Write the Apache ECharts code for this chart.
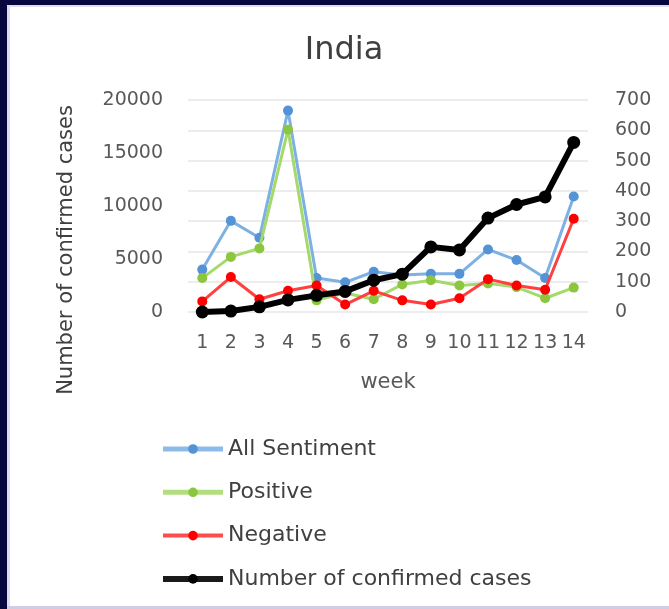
<!DOCTYPE html>
<html>
<head>
<meta charset="utf-8">
<script src="https://cdn.jsdelivr.net/npm/echarts@6/dist/echarts.min.js"></script>
<style>
  html, body { margin: 0; padding: 0; background: #ffffff; }
  #chart { width: 669px; height: 609px; }
</style>
</head>
<body>
<div id="chart"></div>
<script>
// Weekly tweet sentiment counts vs. confirmed COVID-19 cases, India
const weeks = ['1','2','3','4','5','6','7','8','9','10','11','12','13','14'];
const allSentiment = [4000, 8600, 7000, 19000, 3200, 2800, 3800, 3500, 3600, 3600, 5900, 4900, 3200, 10900];
const positive     = [3200, 5200, 6000, 17200, 1100, 1800, 1200, 2600, 3000, 2500, 2700, 2350, 1300, 2300];
const negative     = [1000, 3300, 1200, 2000, 2500, 700, 2000, 1100, 700, 1300, 3100, 2500, 2100, 8800];
const confirmed    = [0, 3, 17, 40, 55, 68, 105, 125, 215, 205, 310, 355, 380, 560];

const leftTicks = { min: 0, max: 20000, interval: 5000 };
const rightTicks = { min: 0, max: 700, interval: 100 };

const FONT = 'DejaVu Sans';
const TEXT = '#595959';

const chart = echarts.init(document.getElementById('chart'), null, { renderer: 'canvas' });

function lineSeries(name, data, lineColor, dotColor, width, size, axisIndex, z) {
  return {
    name: name,
    type: 'line',
    data: data,
    yAxisIndex: axisIndex,
    symbol: 'circle',
    symbolSize: size,
    showSymbol: true,
    z: z,
    lineStyle: { color: lineColor, width: width },
    itemStyle: { color: dotColor, borderWidth: 0 },
    emphasis: { disabled: true },
    animation: false
  };
}

function legendItem(name, lineColor, dotColor, width) {
  return {
    name: name,
    itemStyle: { color: dotColor, borderWidth: 0 },
    lineStyle: { color: lineColor, width: width }
  };
}

chart.setOption({
  animation: false,
  backgroundColor: '#ffffff',
  graphic: [
    { type: 'rect', left: 0, top: 0, shape: { width: 669, height: 5 }, style: { fill: '#08063f' }, z: 100 },
    { type: 'rect', left: 0, top: 5, shape: { width: 669, height: 2 }, style: { fill: '#dedcec' }, z: 100 },
    { type: 'rect', left: 0, top: 0, shape: { width: 7, height: 609 }, style: { fill: '#08063f' }, z: 101 },
    { type: 'rect', left: 7, top: 7, shape: { width: 3, height: 602 }, style: { fill: '#dedcec' }, z: 100 },
    { type: 'rect', left: 7, top: 606, shape: { width: 662, height: 3 }, style: { fill: '#cfcde3' }, z: 100 },
    {
      type: 'text',
      x: 67, y: 250,
      rotation: Math.PI / 2,
      style: {
        text: 'Number of confirmed cases',
        fontFamily: FONT, fontSize: 21, fill: '#404040',
        textAlign: 'center', textVerticalAlign: 'middle'
      },
      z: 50
    }
  ],
  title: {
    text: 'India',
    left: 339,
    top: 30,
    textAlign: 'center',
    textStyle: { fontFamily: FONT, fontSize: 32, fontWeight: 'normal', color: '#404040' }
  },
  grid: { left: 188, right: 81, top: 100, bottom: 297, containLabel: false },
  xAxis: {
    type: 'category',
    data: weeks,
    boundaryGap: true,
    name: 'week',
    nameLocation: 'middle',
    nameGap: 60,
    nameTextStyle: { fontFamily: FONT, fontSize: 21, color: TEXT },
    axisLine: { show: false },
    axisTick: { show: false },
    axisLabel: { interval: 0, margin: 22, fontFamily: FONT, fontSize: 19, color: TEXT }
  },
  yAxis: [
    {
      type: 'value',
      min: leftTicks.min, max: leftTicks.max, interval: leftTicks.interval,
      position: 'left',
      axisLine: { show: false },
      axisTick: { show: false },
      splitLine: { show: false },
      axisLabel: { margin: 25, fontFamily: FONT, fontSize: 19, color: TEXT, formatter: (v) => String(v) }
    },
    {
      type: 'value',
      min: rightTicks.min, max: rightTicks.max, interval: rightTicks.interval,
      position: 'right',
      axisLine: { show: false },
      axisTick: { show: false },
      splitLine: { show: true, lineStyle: { color: '#ececec', width: 2 } },
      axisLabel: { margin: 27, fontFamily: FONT, fontSize: 19, color: TEXT }
    }
  ],
  legend: {
    orient: 'vertical',
    left: 155,
    top: 433,
    itemWidth: 60,
    itemHeight: 12,
    itemGap: 21.3,
    textStyle: { fontFamily: FONT, fontSize: 22, color: '#404040', lineHeight: 22 },
    data: [
      legendItem('All Sentiment', '#8dbbe8', '#5393d6', 5),
      legendItem('Positive', '#b2de80', '#8cc63f', 5),
      legendItem('Negative', '#ff4d4d', '#ff0000', 4),
      legendItem('Number of confirmed cases', '#1a1a1a', '#000000', 6)
    ]
  },
  series: [
    lineSeries('All Sentiment', allSentiment, '#7eb1e3', '#5393d6', 3, 10, 0, 2),
    lineSeries('Positive', positive, '#a5d96b', '#8cc63f', 3, 10, 0, 3),
    lineSeries('Negative', negative, '#ff4040', '#ff0000', 3, 10, 0, 4),
    lineSeries('Number of confirmed cases', confirmed, '#000000', '#000000', 6, 13, 1, 5)
  ]
});
</script>
</body>
</html>
